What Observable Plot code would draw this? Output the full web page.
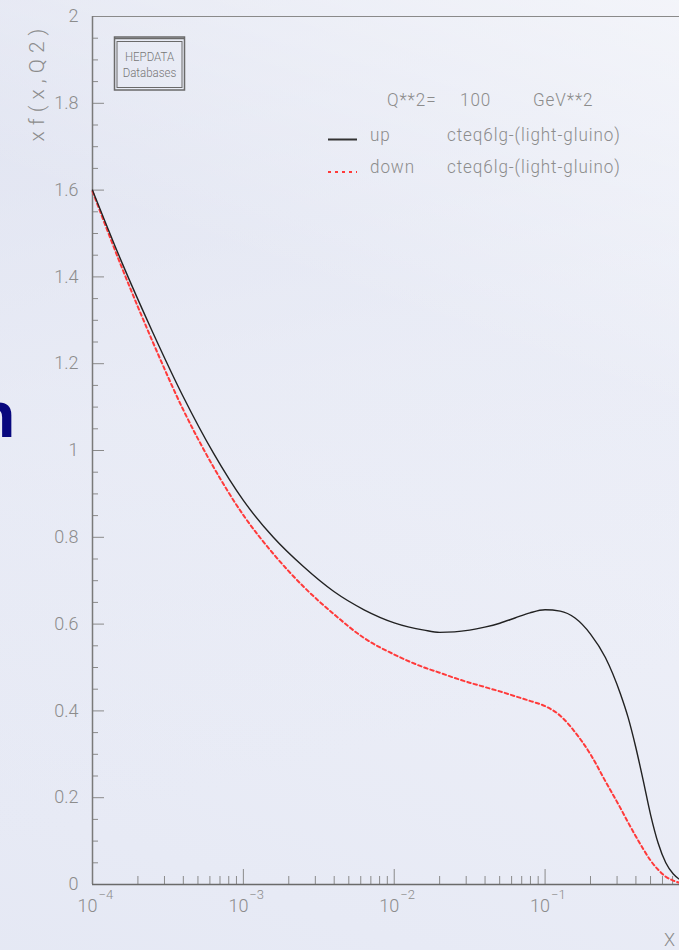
<!DOCTYPE html>
<html>
<head>
<meta charset="utf-8">
<script src="https://cdn.jsdelivr.net/npm/d3@7"></script>
<script src="https://cdn.jsdelivr.net/npm/@observablehq/plot@0.6"></script>
<style>
  html, body { margin: 0; padding: 0; }
  body { width: 679px; height: 950px; overflow: hidden; }
  #page {
    position: relative; width: 679px; height: 950px; overflow: hidden;
    background:
      linear-gradient(200deg, rgba(255,255,255,0.55) 0%, rgba(255,255,255,0.0) 35%),
      linear-gradient(165deg, rgba(212,217,235,0.55) 0%, rgba(225,229,242,0.35) 40%, rgba(245,246,251,0.0) 75%),
      linear-gradient(20deg, rgba(226,230,243,0.7) 0%, rgba(240,242,249,0.2) 50%, rgba(246,247,252,0.4) 100%),
      #eceef7;
    font-family: Roboto, "DejaVu Sans", sans-serif;
  }
  #chart, #overlay { position: absolute; left: 0; top: 0; }
  #overlay { pointer-events: none; }
</style>
</head>
<body>
<div id="page">
  <div id="chart"></div>
  <svg id="overlay" width="679" height="950" xmlns="http://www.w3.org/2000/svg"></svg>
</div>
<script>
// ---- data ----
const xValues = [1e-4, 1.58e-4, 2.51e-4, 3.98e-4, 6.31e-4, 1e-3, 1.58e-3, 2.51e-3, 3.98e-3, 6.31e-3,
  1e-2, 1.58e-2, 2e-2, 2.51e-2, 3.16e-2, 3.98e-2, 5.01e-2, 6.31e-2, 7.94e-2, 0.1,
  0.126, 0.158, 0.2, 0.251, 0.316, 0.355, 0.398, 0.447, 0.501, 0.562, 0.631, 0.708, 0.776];
const upValues = [1.600, 1.430, 1.272, 1.125, 0.995, 0.885, 0.800, 0.732, 0.675, 0.633,
  0.603, 0.586, 0.581, 0.582, 0.586, 0.593, 0.602, 0.614, 0.626, 0.633,
  0.630, 0.614, 0.577, 0.523, 0.439, 0.385, 0.318, 0.240, 0.160, 0.095, 0.050, 0.024, 0.012];
const downValues = [1.597, 1.418, 1.250, 1.095, 0.963, 0.851, 0.762, 0.686, 0.623, 0.568,
  0.530, 0.500, 0.488, 0.476, 0.465, 0.455, 0.445, 0.434, 0.423, 0.411,
  0.389, 0.351, 0.300, 0.238, 0.176, 0.143, 0.112, 0.082, 0.055, 0.034, 0.018, 0.009, 0.004];

const yMajorTicks = [0, 0.2, 0.4, 0.6, 0.8, 1, 1.2, 1.4, 1.6, 1.8, 2];
const yTickLabels = ["0", "0.2", "0.4", "0.6", "0.8", "1", "1.2", "1.4", "1.6", "1.8", "2"];
const xDecadeTicks = [1e-4, 1e-3, 1e-2, 1e-1];
const xDecadeBase = "10";
const xDecadeExponents = ["\u22124", "\u22123", "\u22122", "\u22121"];

const seriesNames = ["up", "down"];
const pdfSetName = "cteq6lg-(light-gluino)";
const q2Text = ["Q**2=", "100", "GeV**2"];
const yTitle = "xf(x,Q2)";
const xTitle = "X";
const logoLines = ["HEPDATA", "Databases"];

// ---- derived tables ----
const rows = xValues.map((x, i) => ({x, up: upValues[i], down: downValues[i]}));
const yMinorTicks = d3.range(0, 41).map(i => i * 0.05).filter(v => Math.abs(v * 5 - Math.round(v * 5)) > 1e-6);
const xMinorTicks = [];
for (const dec of [1e-4, 1e-3, 1e-2, 1e-1]) for (let m = 2; m <= 9; m++) { const v = m * dec; if (v <= 0.778) xMinorTicks.push(v); }

const W = 679, H = 950, mL = 92, mR = 0, mT = 16, mB = 66;
const fw = W - mL - mR, fh = H - mT - mB;
const grey = "#8a8a8a";
const txt = "#8c8c8c";
const font = "Roboto, 'DejaVu Sans', sans-serif";

const chart = Plot.plot({
  width: W, height: H,
  marginLeft: mL, marginRight: mR, marginTop: mT, marginBottom: mB,
  style: {background: "transparent", fontFamily: font, fontWeight: 300, overflow: "visible"},
  x: {type: "log", domain: [1e-4, 0.778], axis: null},
  y: {domain: [0, 2]},
  marks: [
    Plot.ruleY([2], {stroke: grey, strokeWidth: 1}),
    Plot.tickY(yMinorTicks, {y: d => d, insetRight: fw - 6, stroke: grey, strokeWidth: 1}),
    Plot.tickY(yMajorTicks, {y: d => d, insetRight: fw - 12, stroke: grey, strokeWidth: 1}),
    Plot.tickX(xMinorTicks, {x: d => d, insetTop: fh - 8, stroke: grey, strokeWidth: 1}),
    Plot.tickX(xDecadeTicks, {x: d => d, insetTop: fh - 15, stroke: grey, strokeWidth: 1}),
    Plot.ruleX([1e-4], {stroke: "#7a7a7a", strokeWidth: 1.5}),
    Plot.ruleY([0], {stroke: "#6a6a6a", strokeWidth: 1.5}),
    Plot.line(rows, {x: "x", y: "down", stroke: "#ff3a3a", strokeWidth: 2, strokeDasharray: "3.5,3", curve: "monotone-x"}),
    Plot.line(rows, {x: "x", y: "up", stroke: "#222222", strokeWidth: 1.4, curve: "monotone-x"}),
    Plot.axisY(yMajorTicks, {tickSize: 0, tickPadding: 14, label: null,
      tickFormat: d => yTickLabels[yMajorTicks.indexOf(d)], fontSize: 18, fill: txt}),
    Plot.text(xDecadeTicks, {x: d => d, frameAnchor: "bottom", dy: 27, dx: 5, textAnchor: "end",
      text: () => xDecadeBase, fontSize: 18, fill: txt}),
    Plot.text(xDecadeTicks, {x: d => d, frameAnchor: "bottom", dy: 14, dx: 6, textAnchor: "start",
      text: (d, i) => xDecadeExponents[i], fontSize: 13, fill: txt})
  ]
});
document.getElementById("chart").appendChild(chart);

// ---- annotations overlay (legend, logo, titles) ----
const ov = d3.select("#overlay");
ov.append("text").attr("x", 16).attr("y", 437).attr("text-anchor", "end")
  .attr("font-family", "'Open Sans', 'DejaVu Sans', sans-serif").attr("font-weight", 700)
  .attr("font-size", 62).attr("fill", "#08087e").text("n");

// y title
ov.append("text").attr("transform", "translate(44,82) rotate(-90)").attr("text-anchor", "middle")
  .attr("font-family", font).attr("font-weight", 300).attr("font-size", 21)
  .attr("letter-spacing", 6).attr("fill", txt).text(yTitle);
// x title
ov.append("text").attr("x", 664).attr("y", 946).attr("font-family", font).attr("font-weight", 300)
  .attr("font-size", 18).attr("fill", txt).text(xTitle);

// HEPDATA logo
ov.append("rect").attr("x", 114.5).attr("y", 37).attr("width", 70).attr("height", 53)
  .attr("fill", "none").attr("stroke", "#6a6a6a").attr("stroke-width", 1.5);
ov.append("rect").attr("x", 117).attr("y", 41.5).attr("width", 65).attr("height", 46)
  .attr("fill", "none").attr("stroke", "#6a6a6a").attr("stroke-width", 1);
ov.append("line").attr("x1", 114.5).attr("x2", 184.5).attr("y1", 38.5).attr("y2", 38.5)
  .attr("stroke", "#6a6a6a").attr("stroke-width", 1.5);
logoLines.forEach((t, i) => {
  ov.append("text").attr("transform", `translate(149.5,${61 + i * 16}) scale(0.92,1)`).attr("text-anchor", "middle")
    .attr("font-family", font).attr("font-weight", 300).attr("font-size", 12.5)
    .attr("fill", "#777").text(t);
});

// legend
function lt(x, y, t) {
  ov.append("text").attr("transform", `translate(${x},${y}) scale(0.9,1)`).attr("font-family", font)
    .attr("font-weight", 300).attr("font-size", 19).attr("letter-spacing", 1)
    .attr("fill", txt).text(t);
}
lt(387, 106, q2Text[0]); lt(460, 106, q2Text[1]); lt(533, 106, q2Text[2]);
ov.append("line").attr("x1", 328).attr("x2", 357).attr("y1", 139.5).attr("y2", 139.5)
  .attr("stroke", "#333").attr("stroke-width", 2);
lt(370, 141, seriesNames[0]); lt(447, 141, pdfSetName);
ov.append("line").attr("x1", 328).attr("x2", 357).attr("y1", 172).attr("y2", 172)
  .attr("stroke", "#ff3a3a").attr("stroke-width", 2).attr("stroke-dasharray", "3,4");
lt(370, 173, seriesNames[1]); lt(447, 173, pdfSetName);
</script>
</body>
</html>
